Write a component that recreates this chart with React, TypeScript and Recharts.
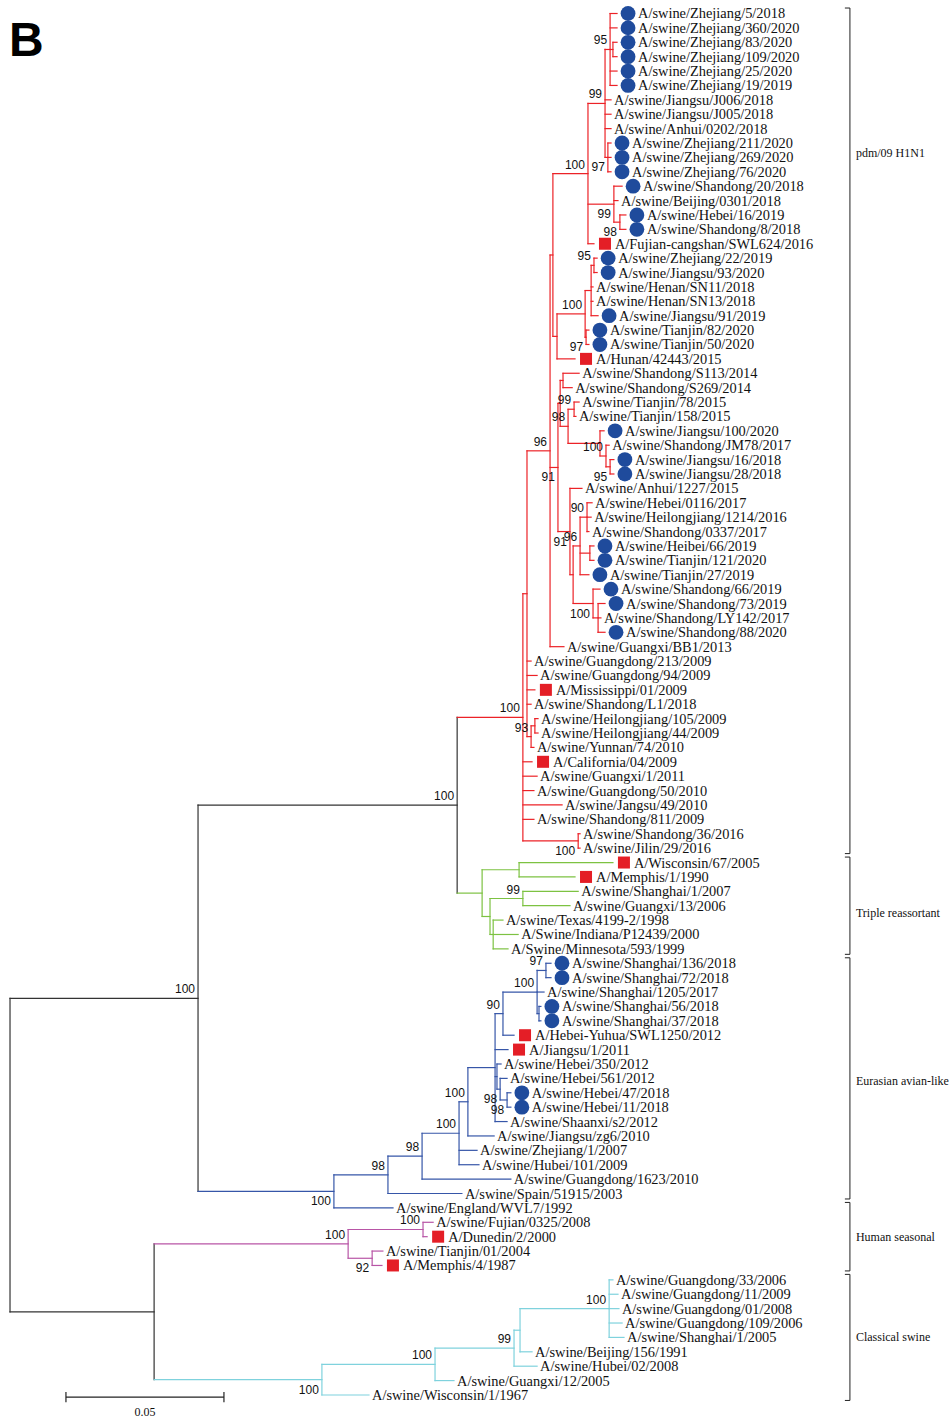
import { ScatterChart, Scatter, XAxis, YAxis, ReferenceLine } from 'recharts'

// leaves, top to bottom (row = index + 1)
const leafNames = [
  'A/swine/Zhejiang/5/2018', 'A/swine/Zhejiang/360/2020', 'A/swine/Zhejiang/83/2020',
  'A/swine/Zhejiang/109/2020', 'A/swine/Zhejiang/25/2020', 'A/swine/Zhejiang/19/2019',
  'A/swine/Jiangsu/J006/2018', 'A/swine/Jiangsu/J005/2018', 'A/swine/Anhui/0202/2018',
  'A/swine/Zhejiang/211/2020', 'A/swine/Zhejiang/269/2020', 'A/swine/Zhejiang/76/2020',
  'A/swine/Shandong/20/2018', 'A/swine/Beijing/0301/2018', 'A/swine/Hebei/16/2019',
  'A/swine/Shandong/8/2018', 'A/Fujian-cangshan/SWL624/2016', 'A/swine/Zhejiang/22/2019',
  'A/swine/Jiangsu/93/2020', 'A/swine/Henan/SN11/2018', 'A/swine/Henan/SN13/2018',
  'A/swine/Jiangsu/91/2019', 'A/swine/Tianjin/82/2020', 'A/swine/Tianjin/50/2020',
  'A/Hunan/42443/2015', 'A/swine/Shandong/S113/2014', 'A/swine/Shandong/S269/2014',
  'A/swine/Tianjin/78/2015', 'A/swine/Tianjin/158/2015', 'A/swine/Jiangsu/100/2020',
  'A/swine/Shandong/JM78/2017', 'A/swine/Jiangsu/16/2018', 'A/swine/Jiangsu/28/2018',
  'A/swine/Anhui/1227/2015', 'A/swine/Hebei/0116/2017', 'A/swine/Heilongjiang/1214/2016',
  'A/swine/Shandong/0337/2017', 'A/swine/Heibei/66/2019', 'A/swine/Tianjin/121/2020',
  'A/swine/Tianjin/27/2019', 'A/swine/Shandong/66/2019', 'A/swine/Shandong/73/2019',
  'A/swine/Shandong/LY142/2017', 'A/swine/Shandong/88/2020', 'A/swine/Guangxi/BB1/2013',
  'A/swine/Guangdong/213/2009', 'A/swine/Guangdong/94/2009', 'A/Mississippi/01/2009',
  'A/swine/Shandong/L1/2018', 'A/swine/Heilongjiang/105/2009', 'A/swine/Heilongjiang/44/2009',
  'A/swine/Yunnan/74/2010', 'A/California/04/2009', 'A/swine/Guangxi/1/2011',
  'A/swine/Guangdong/50/2010', 'A/swine/Jangsu/49/2010', 'A/swine/Shandong/811/2009',
  'A/swine/Shandong/36/2016', 'A/swine/Jilin/29/2016', 'A/Wisconsin/67/2005',
  'A/Memphis/1/1990', 'A/swine/Shanghai/1/2007', 'A/swine/Guangxi/13/2006',
  'A/swine/Texas/4199-2/1998', 'A/Swine/Indiana/P12439/2000', 'A/Swine/Minnesota/593/1999',
  'A/swine/Shanghai/136/2018', 'A/swine/Shanghai/72/2018', 'A/swine/Shanghai/1205/2017',
  'A/swine/Shanghai/56/2018', 'A/swine/Shanghai/37/2018', 'A/Hebei-Yuhua/SWL1250/2012',
  'A/Jiangsu/1/2011', 'A/swine/Hebei/350/2012', 'A/swine/Hebei/561/2012',
  'A/swine/Hebei/47/2018', 'A/swine/Hebei/11/2018', 'A/swine/Shaanxi/s2/2012',
  'A/swine/Jiangsu/zg6/2010', 'A/swine/Zhejiang/1/2007', 'A/swine/Hubei/101/2009',
  'A/swine/Guangdong/1623/2010', 'A/swine/Spain/51915/2003', 'A/swine/England/WVL7/1992',
  'A/swine/Fujian/0325/2008', 'A/Dunedin/2/2000', 'A/swine/Tianjin/01/2004',
  'A/Memphis/4/1987', 'A/swine/Guangdong/33/2006', 'A/swine/Guangdong/11/2009',
  'A/swine/Guangdong/01/2008', 'A/swine/Guangdong/109/2006', 'A/swine/Shanghai/1/2005',
  'A/swine/Beijing/156/1991', 'A/swine/Hubei/02/2008', 'A/swine/Guangxi/12/2005',
  'A/swine/Wisconsin/1/1967',
]

// distance from the root (substitutions/site) of each leaf
const leafDepths = [
  0.1921, 0.1921, 0.1921, 0.1921, 0.1921, 0.1921, 0.1902, 0.1902, 0.1902, 0.1902,
  0.1902, 0.1902, 0.1937, 0.1924, 0.1949, 0.1949, 0.1848, 0.1858, 0.1858, 0.1845,
  0.1845, 0.1861, 0.1832, 0.1832, 0.1788, 0.1801, 0.1779, 0.1801, 0.1791, 0.188,
  0.1896, 0.1911, 0.1911, 0.181, 0.1842, 0.1839, 0.1832, 0.1848, 0.1848, 0.1832,
  0.1867, 0.1883, 0.187, 0.1883, 0.1753, 0.1649, 0.1668, 0.1661, 0.1649, 0.1671,
  0.1671, 0.1658, 0.1652, 0.1668, 0.1658, 0.1747, 0.1658, 0.1804, 0.1804, 0.1908,
  0.1788, 0.1798, 0.1772, 0.156, 0.1608, 0.1576, 0.1712, 0.1712, 0.169, 0.168,
  0.168, 0.1595, 0.1576, 0.1554, 0.1573, 0.1585, 0.1585, 0.1573, 0.1532, 0.1478,
  0.1484, 0.1585, 0.143, 0.1212, 0.1339, 0.132, 0.118, 0.1177, 0.1908, 0.1924,
  0.1927, 0.1937, 0.1943, 0.1652, 0.1668, 0.1405, 0.1136,
]

// sequenced in this study (circle) and reference strains (square), by row
const circleLeaves = [1, 2, 3, 4, 5, 6, 10, 11, 12, 13, 15, 16, 18, 19, 22, 23, 24, 30, 32, 33,
  38, 39, 40, 41, 42, 44, 67, 68, 70, 71, 76, 77]
const squareLeaves = [17, 25, 48, 53, 60, 61, 72, 73, 86, 88]

// internal nodes: id, depth, bootstrap, children (numbers are leaf rows)
type InnerRow = [string, number, number | null, (string | number)[]]
const innerNodes: InnerRow[] = [
  ['root', 0, null, ['A', 'H']],
  ['A', 0.0595, 100, ['B', 'E']],
  ['B', 0.1415, 100, ['P', 'T']],
  ['P', 0.1623, 100, ['P1', 53, 54, 55, 56, 57, 'P58']],
  ['P1', 0.1636, null, ['P2', 46, 47, 48, 49, 'P93']],
  ['P93', 0.1649, 93, ['P93a', 52]],
  ['P93a', 0.1661, null, [50, 51]],
  ['P58', 0.1798, 100, [58, 59]],
  ['P2', 0.1709, 96, ['P3', 'P4', 45]],
  ['P3', 0.1718, null, ['P5', 'P6']],
  ['P5', 0.1829, 100, ['P7', 'P8', 17]],
  ['P7', 0.1883, 99, ['P9', 7, 8, 9, 'P10']],
  ['P9', 0.1899, 95, [1, 2, 'P11', 5, 6]],
  ['P11', 0.1908, null, [3, 4]],
  ['P10', 0.1892, 97, [10, 11, 12]],
  ['P8', 0.1911, 99, [13, 14, 'P12']],
  ['P12', 0.193, 98, [15, 16]],
  ['P6', 0.1731, null, ['P13', 25]],
  ['P13', 0.182, 100, ['P14', 'P15']],
  ['P14', 0.1839, null, ['P16', 20, 21, 22]],
  ['P16', 0.1848, 95, [18, 19]],
  ['P15', 0.1823, 97, [23, 24]],
  ['P4', 0.1734, 91, ['P17', 'P18']],
  ['P17', 0.1741, null, ['P19', 'P20']],
  ['P19', 0.175, null, [26, 27]],
  ['P20', 0.1766, 98, ['P21', 'P22']],
  ['P21', 0.1785, 99, [28, 29]],
  ['P22', 0.1867, null, [30, 'P23']],
  ['P23', 0.1886, 100, [31, 'P24']],
  ['P24', 0.1899, 95, [32, 33]],
  ['P18', 0.1772, 91, [34, 'P25']],
  ['P25', 0.1782, null, ['P26', 'P27']],
  ['P26', 0.1804, 96, ['P28', 'P29', 40]],
  ['P28', 0.1826, 90, [35, 36, 37]],
  ['P29', 0.1835, null, [38, 39]],
  ['P27', 0.1845, 100, [41, 'P30']],
  ['P30', 0.1861, null, [42, 43, 44]],
  ['T', 0.1494, null, ['T1', 'T2']],
  ['T1', 0.1611, null, [60, 61]],
  ['T2', 0.1519, null, ['T3', 'T4']],
  ['T3', 0.1623, 99, [62, 63]],
  ['T4', 0.1529, null, [64, 65, 66]],
  ['E', 0.1025, 100, ['E1', 84]],
  ['E1', 0.1196, 98, ['E2', 83]],
  ['E2', 0.1304, 98, ['E3', 82]],
  ['E3', 0.1421, 100, ['E4', 80, 81]],
  ['E4', 0.1449, 100, ['E5', 79]],
  ['E5', 0.1535, null, ['E6', 73, 'E7', 78]],
  ['E6', 0.156, 90, ['E8', 72]],
  ['E8', 0.1668, 100, ['E9', 69, 'E10']],
  ['E9', 0.1696, 97, [67, 68]],
  ['E10', 0.1674, null, [70, 71]],
  ['E7', 0.1541, null, [74, 'E11']],
  ['E11', 0.1551, 98, [75, 'E12']],
  ['E12', 0.1573, 98, [76, 77]],
  ['H', 0.0456, null, ['S', 'C']],
  ['S', 0.107, 100, ['S1', 'S2']],
  ['S1', 0.1307, 100, [85, 86]],
  ['S2', 0.1146, 92, [87, 88]],
  ['C', 0.0987, 100, ['C1', 97]],
  ['C1', 0.1345, 100, ['C2', 96]],
  ['C2', 0.1595, 99, ['C3', 95]],
  ['C3', 0.1614, null, ['C4', 94]],
  ['C4', 0.1896, 100, [89, 90, 91, 92, 93]],
]

// bootstrap values printed under the branch instead of above it
const supportBelow = ['P58', 'P10', 'P8', 'P12', 'P15', 'P4', 'P24', 'P18', 'P27', 'E', 'E11', 'E12', 'S2', 'C']

const clades = [
  { name: 'pdm/09 H1N1', from: 1, to: 59, labelRow: 10.7 },
  { name: 'Triple reassortant', from: 60, to: 66, labelRow: 63.5 },
  { name: 'Eurasian avian-like', from: 67, to: 83, labelRow: 75.2 },
  { name: 'Human seasonal', from: 84, to: 88, labelRow: 86 },
  { name: 'Classical swine', from: 89, to: 97, labelRow: 93 },
]

const scaleLength = 0.05

const cladeColour: Record<string, string> = {
  P: '#ec2227',
  T: '#7dc242',
  E: '#3656a8',
  S: '#b855a6',
  C: '#7fd2dd',
}
const TREE_BLACK = '#333333'
const CIRCLE_FILL = '#1f4b9c'
const SQUARE_FILL = '#e41e26'

const X_DOMAIN: [number, number] = [-0.00317, 0.29715]
const Y_DOMAIN: [number, number] = [0.062, 98.6]
const BRACKET_X = 0.2658
const BRACKET_TICK = 0.0016
const SCALE_X = 0.0177
const SCALE_ROW = 97.15

const byId = new Map(innerNodes.map(([id, depth, support, kids]) => [id, { id, depth, support, kids }]))

function depthOf(k: string | number): number {
  return typeof k === 'number' ? leafDepths[k - 1] : byId.get(k)!.depth
}

function rowOf(k: string | number): number {
  if (typeof k === 'number') return k
  const kids = byId.get(k)!.kids
  return (rowOf(kids[0]) + rowOf(kids[kids.length - 1])) / 2
}

type Seg = { x1: number; y1: number; x2: number; y2: number; colour: string }
const segments: Seg[] = []

function walk(id: string, inherited: string) {
  const node = byId.get(id)!
  const colour = cladeColour[id] ?? inherited
  const kids = node.kids
  segments.push({
    x1: node.depth, y1: rowOf(kids[0]), x2: node.depth, y2: rowOf(kids[kids.length - 1]), colour,
  })
  kids.forEach((k) => {
    const kidColour = typeof k === 'string' ? cladeColour[k] ?? colour : colour
    segments.push({ x1: node.depth, y1: rowOf(k), x2: depthOf(k), y2: rowOf(k), colour: kidColour })
    if (typeof k === 'string') walk(k, colour)
  })
}
walk('root', TREE_BLACK)

const leafData = leafNames.map((name, i) => ({
  x: leafDepths[i],
  y: i + 1,
  name,
  mark: circleLeaves.includes(i + 1) ? 'circle' : squareLeaves.includes(i + 1) ? 'square' : '',
}))

const supportData = innerNodes
  .filter(([, , support]) => support !== null)
  .map(([id, depth, support]) => ({ x: depth, y: rowOf(id), value: support, below: supportBelow.includes(id) }))

const cladeLabelData = clades.map((c) => ({ x: BRACKET_X, y: c.labelRow, name: c.name }))
const scaleLabelData = [{ x: SCALE_X + scaleLength / 2, y: SCALE_ROW, name: String(scaleLength) }]

const SERIF = '"Liberation Serif", "Times New Roman", serif'
const SANS = '"Liberation Sans", Arial, sans-serif'

function LeafShape(props: any) {
  const { cx, cy, payload } = props
  const marked = payload.mark !== ''
  return (
    <g>
      {payload.mark === 'circle' && <circle cx={cx + 11} cy={cy} r={7.4} fill={CIRCLE_FILL} />}
      {payload.mark === 'square' && <rect x={cx + 5} y={cy - 6} width={12} height={12} fill={SQUARE_FILL} />}
      <text x={cx + (marked ? 21 : 3)} y={cy + 5} fontFamily={SERIF} fontSize={14.4} fill="#111">
        {payload.name}
      </text>
    </g>
  )
}

function SupportShape(props: any) {
  const { cx, cy, payload } = props
  return (
    <text x={cx - 3} y={payload.below ? cy + 14 : cy - 5} textAnchor="end" fontFamily={SANS} fontSize={12} fill="#111">
      {payload.value}
    </text>
  )
}

function CladeLabelShape(props: any) {
  const { cx, cy, payload } = props
  return (
    <text x={cx + 6} y={cy + 4} fontFamily={SERIF} fontSize={12} fill="#111">
      {payload.name}
    </text>
  )
}

function ScaleLabelShape(props: any) {
  const { cx, cy, payload } = props
  return (
    <text x={cx} y={cy + 19} textAnchor="middle" fontFamily={SERIF} fontSize={12} fill="#111">
      {payload.name}
    </text>
  )
}

export default function App() {
  return (
    <div style={{ position: 'absolute', left: 0, top: 0, width: 949, height: 1418, background: '#fff' }}>
      <ScatterChart width={949} height={1418} margin={{ top: 0, right: 0, bottom: 0, left: 0 }}>
        <XAxis type="number" dataKey="x" domain={X_DOMAIN} allowDataOverflow hide />
        <YAxis type="number" dataKey="y" domain={Y_DOMAIN} allowDataOverflow reversed hide />
        {segments.map((s, i) => (
          <ReferenceLine
            key={`seg-${i}`}
            segment={[{ x: s.x1, y: s.y1 }, { x: s.x2, y: s.y2 }]}
            stroke={s.colour}
            strokeWidth={1.2}
            strokeLinecap="square"
            ifOverflow="visible"
          />
        ))}
        {clades.map((c) => (
          <ReferenceLine
            key={`br-${c.name}`}
            segment={[{ x: BRACKET_X, y: c.from - 0.38 }, { x: BRACKET_X, y: c.to + 0.38 }]}
            stroke="#222"
            strokeWidth={1}
            ifOverflow="visible"
          />
        ))}
        {clades.flatMap((c) =>
          [c.from - 0.38, c.to + 0.38].map((row, j) => (
            <ReferenceLine
              key={`tick-${c.name}-${j}`}
              segment={[{ x: BRACKET_X - BRACKET_TICK, y: row }, { x: BRACKET_X, y: row }]}
              stroke="#222"
              strokeWidth={1}
              ifOverflow="visible"
            />
          ))
        )}
        <ReferenceLine
          segment={[{ x: SCALE_X, y: SCALE_ROW }, { x: SCALE_X + scaleLength, y: SCALE_ROW }]}
          stroke="#222"
          strokeWidth={1.2}
          ifOverflow="visible"
        />
        {[SCALE_X, SCALE_X + scaleLength].map((x) => (
          <ReferenceLine
            key={`sb-${x}`}
            segment={[{ x, y: SCALE_ROW - 0.35 }, { x, y: SCALE_ROW + 0.35 }]}
            stroke="#222"
            strokeWidth={1.2}
            ifOverflow="visible"
          />
        ))}
        <Scatter data={leafData} shape={LeafShape} isAnimationActive={false} />
        <Scatter data={supportData} shape={SupportShape} isAnimationActive={false} />
        <Scatter data={cladeLabelData} shape={CladeLabelShape} isAnimationActive={false} />
        <Scatter data={scaleLabelData} shape={ScaleLabelShape} isAnimationActive={false} />
      </ScatterChart>
      <div
        style={{
          position: 'absolute',
          left: 9,
          top: 16,
          fontFamily: SANS,
          fontWeight: 700,
          fontSize: 48,
          lineHeight: '48px',
          color: '#000',
        }}
      >
        B
      </div>
    </div>
  )
}
